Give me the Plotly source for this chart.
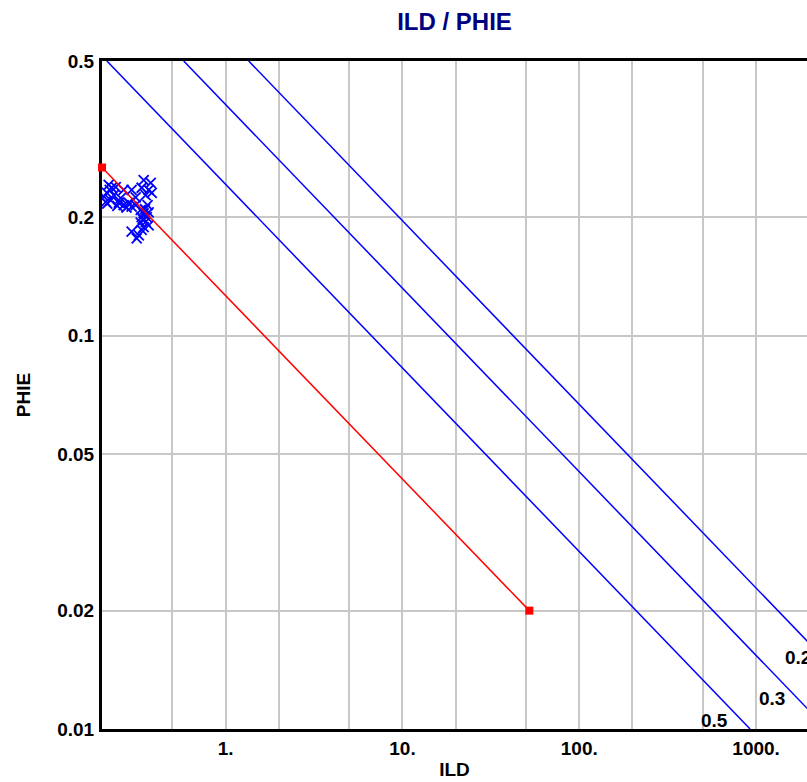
import math
import plotly.graph_objects as go

# Scatter data (ILD vs PHIE)
ild = [0.218, 0.227, 0.213, 0.233, 0.224, 0.210, 0.221, 0.239, 0.249, 0.255,
       0.265, 0.265, 0.283, 0.294, 0.294, 0.310, 0.310, 0.344, 0.377, 0.335,
       0.367, 0.382, 0.353, 0.331, 0.344, 0.358, 0.335, 0.353, 0.331, 0.344,
       0.367, 0.362, 0.367, 0.294, 0.323, 0.335, 0.314, 0.205, 0.214, 0.244,
       0.275, 0.340, 0.350]
phie = [0.242, 0.238, 0.231, 0.228, 0.221, 0.219, 0.235, 0.239, 0.218, 0.224,
        0.215, 0.235, 0.218, 0.235, 0.213, 0.215, 0.225, 0.249, 0.245, 0.238,
        0.235, 0.231, 0.228, 0.209, 0.205, 0.2005, 0.2005, 0.195, 0.194, 0.189,
        0.191, 0.215, 0.206, 0.184, 0.180, 0.186, 0.177, 0.226, 0.217, 0.214,
        0.212, 0.198, 0.210]

# Water line (Sw = 1) endpoints
red_x = [0.2, 52.2]
red_y = [0.268, 0.02]

# Sw lines: label, endpoints
sw_labels = ["0.5", "0.3", "0.2"]
sw_x0 = [0.213, 0.579, 1.35]
sw_x1 = [925, 2518, 5860]
sw_y0 = [0.5, 0.5, 0.5]
sw_y1 = [0.01, 0.01, 0.01]
sw_lab_x = [579, 1231, 1422]
sw_lab_y = [0.01052, 0.01197, 0.01522]
sw_lab_anchor = ["center", "center", "left"]

x_grid = [0.5, 1, 2, 5, 10, 20, 50, 100, 200, 500, 1000, 2000]
x_ticktext = ["", "1.", "", "", "10.", "", "", "100.", "", "", "1000.", ""]
y_ticks = [0.01, 0.02, 0.05, 0.1, 0.2, 0.5]
y_ticktext = ["0.01", "0.02", "0.05", "0.1", "0.2", "0.5"]

FONT = "Liberation Sans, Arial, sans-serif"

fig = go.Figure()

for i, lab in enumerate(sw_labels):
    fig.add_trace(go.Scatter(x=[sw_x0[i], sw_x1[i]], y=[sw_y0[i], sw_y1[i]],
                             mode="lines", line=dict(color="#0000ff", width=1.5),
                             showlegend=False, hoverinfo="skip"))
    fig.add_annotation(x=math.log10(sw_lab_x[i]), y=math.log10(sw_lab_y[i]),
                       xref="x", yref="y",
                       text="<b>" + lab + "</b>", showarrow=False,
                       xanchor=sw_lab_anchor[i], yanchor="middle",
                       font=dict(family=FONT, size=19, color="black"))

fig.add_trace(go.Scatter(x=ild, y=phie, mode="markers",
                         marker=dict(symbol="x-thin", size=10, color="#0000ff",
                                     line=dict(color="#0000ff", width=1.8)),
                         showlegend=False))

fig.add_trace(go.Scatter(x=red_x, y=red_y, mode="lines+markers",
                         line=dict(color="#ff0000", width=1.5),
                         marker=dict(symbol="square", size=8, color="#ff0000"),
                         cliponaxis=False, showlegend=False))

fig.update_layout(
    width=807, height=782,
    margin=dict(l=102, r=0, t=61, b=53),
    plot_bgcolor="white", paper_bgcolor="white",
    title=dict(text="<b>ILD / PHIE</b>", x=0.5, xref="paper", xanchor="center",
               y=1 - 22 / 782, yref="container", yanchor="middle",
               font=dict(family=FONT, size=24, color="#000080")),
    font=dict(family=FONT, size=19, color="black"),
)

fig.update_xaxes(type="log", range=[-0.6992, 3.288], tickvals=x_grid, ticktext=x_ticktext,
                 showgrid=True, gridcolor="#c8c8c8", gridwidth=1.5,
                 showline=True, linecolor="black", linewidth=3, mirror=True,
                 ticks="", zeroline=False, layer="below traces",
                 tickfont=dict(family=FONT, size=19, color="black", weight="bold"),
                 ticklabelstandoff=0,
                 title=dict(text="<b>ILD</b>", font=dict(family=FONT, size=19), standoff=5))

fig.update_yaxes(type="log", range=[-2, -0.30103], tickvals=y_ticks, ticktext=y_ticktext,
                 showgrid=True, gridcolor="#c8c8c8", gridwidth=1.5,
                 showline=True, linecolor="black", linewidth=3, mirror=False,
                 ticks="", zeroline=False, layer="below traces",
                 tickfont=dict(family=FONT, size=19, color="black", weight="bold"),
                 ticklabelstandoff=1,
                 title=dict(text="<b>PHIE</b>", font=dict(family=FONT, size=19), standoff=22))

fig.write_html("out.html")
